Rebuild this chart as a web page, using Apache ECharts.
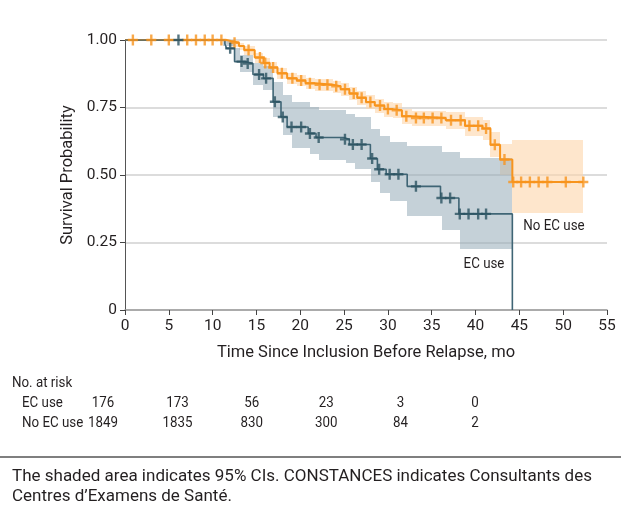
<!DOCTYPE html>
<html><head><meta charset="utf-8">
<script src="https://cdn.jsdelivr.net/npm/echarts@6/dist/echarts.min.js"></script>
<style>html,body{margin:0;padding:0;background:#fff}#c{width:621px;height:520px}</style>
</head><body><div id="c"></div>
<script>
// ---------- data ----------
const xTicks = [0, 5, 10, 15, 20, 25, 30, 35, 40, 45, 50, 55];
const yTicks = [0, 0.25, 0.5, 0.75, 1.0];

// EC use: Kaplan-Meier steps (time at which level starts, level)
const ecTimes = [0, 11.4, 11.6, 12.5, 13.7, 14.6, 15.8, 16.9, 17.8, 18.5, 20.9, 21.8, 24.9, 25.6, 28.0, 28.8, 29.8, 32.2, 36.0, 38.1, 44.2];
const ecSurv  = [1.0, 0.985, 0.969, 0.920, 0.913, 0.872, 0.858, 0.771, 0.715, 0.678, 0.654, 0.639, 0.632, 0.613, 0.561, 0.521, 0.503, 0.458, 0.415, 0.356, 0];
const ecCensor = [6.1, 12.0, 13.3, 14.0, 15.3, 16.1, 17.1, 18.0, 19.0, 20.1, 21.1, 22.1, 25.1, 26.0, 27.0, 28.2, 29.0, 30.2, 31.2, 33.2, 36.1, 37.1, 38.2, 39.2, 40.3, 41.2];
const ecBandStart = [11.15, 12.52, 13.09, 14.57, 15.71, 16.85, 17.98, 19.1, 21.07, 22.14, 25.2, 26.21, 28.1, 29.06, 30.2, 32.2, 36.14, 38.19];
const ecBandEnd = 44.2;
const ecUpper = [1.0, 0.97, 0.944, 0.915, 0.903, 0.845, 0.796, 0.771, 0.752, 0.741, 0.727, 0.715, 0.672, 0.644, 0.623, 0.607, 0.586, 0.562];
const ecLower = [0.978, 0.922, 0.882, 0.833, 0.814, 0.714, 0.647, 0.601, 0.577, 0.557, 0.545, 0.524, 0.474, 0.432, 0.404, 0.347, 0.295, 0.227];

// No EC use
const noTimes = [0, 11.6, 12.1, 13.0, 13.6, 14.8, 15.8, 16.5, 17.4, 18.5, 19.6, 20.6, 21.7, 23.7, 24.6, 25.6, 26.5, 27.5, 28.5, 29.6, 30.6, 31.6, 32.7, 36.6, 38.8, 40.8, 41.7, 42.8, 44.2, 52.3];
const noSurv  = [1.0, 0.996, 0.99, 0.978, 0.963, 0.935, 0.915, 0.898, 0.877, 0.858, 0.850, 0.840, 0.834, 0.829, 0.818, 0.802, 0.786, 0.770, 0.757, 0.744, 0.740, 0.718, 0.711, 0.703, 0.682, 0.672, 0.612, 0.557, 0.474, 0.474];
const noCensor = [0.9, 3.0, 5.0, 7.1, 8.1, 9.1, 10.0, 11.0, 12.5, 14.1, 15.4, 16.0, 16.9, 17.9, 19.1, 20.1, 21.1, 22.2, 23.1, 24.1, 25.1, 26.1, 27.0, 28.0, 29.1, 30.0, 31.0, 32.1, 33.2, 34.1, 35.1, 36.1, 37.2, 38.3, 39.3, 40.3, 41.2, 42.2, 43.3, 44.3, 45.2, 46.2, 47.2, 48.2, 50.3, 52.3];
const noBandStart = [11.6, 12.1, 13.0, 13.6, 14.8, 15.8, 16.5, 17.4, 18.5, 19.6, 20.6, 21.7, 23.7, 24.6, 25.6, 26.5, 27.5, 28.5, 29.6, 30.6, 31.6, 32.7, 36.6, 38.8, 40.8, 41.7, 42.8, 44.2];
const noBandEnd = 52.3;
const noUpper = [1.0, 1.0, 0.99, 0.978, 0.952, 0.935, 0.918, 0.897, 0.878, 0.870, 0.860, 0.855, 0.850, 0.840, 0.825, 0.810, 0.795, 0.782, 0.770, 0.766, 0.745, 0.738, 0.732, 0.715, 0.705, 0.660, 0.615, 0.629];
const noLower = [0.985, 0.975, 0.962, 0.945, 0.915, 0.895, 0.876, 0.855, 0.836, 0.828, 0.817, 0.810, 0.805, 0.793, 0.777, 0.760, 0.743, 0.730, 0.716, 0.711, 0.688, 0.680, 0.670, 0.645, 0.630, 0.565, 0.500, 0.359];

const riskLabels = ['EC use', 'No EC use'];
const riskEC = [176, 173, 56, 23, 3, 0];
const riskNoEC = [1849, 1835, 830, 300, 84, 2];

// ---------- helpers ----------
function stepAt(times, surv, t) {
  let v = surv[0];
  for (let i = 0; i < times.length; i++) { if (times[i] <= t) v = surv[i]; }
  return v;
}
function bands(starts, end, up, lo) {
  return starts.map((s, i) => [s, i + 1 < starts.length ? starts[i + 1] : end, lo[i], up[i]]);
}
function bandRender(fill) {
  return function (params, api) {
    const a = api.coord([api.value(0), api.value(3)]);
    const b = api.coord([api.value(1), api.value(2)]);
    const x0 = Math.round(a[0]), x1 = Math.round(b[0]);
    const y0 = Math.round(a[1]), y1 = Math.round(b[1]);
    return { type: 'rect', shape: { x: x0, y: y0, width: x1 - x0, height: y1 - y0 }, style: { fill: fill } };
  };
}
const PLUS = 'path://M3.8,0H6.2V3.9H10V6.1H6.2V10H3.8V6.1H0V3.9H3.8Z';
const FONT = 'Roboto';
const TXT = '#231f20';
const ORANGE = '#f7941d';
const DARK = '#2b5361';
const SX = 0.86; // condensed look for table / in-plot labels

function label(txt, x, y, size, align, sx) {
  return { type: 'text', x: x, y: y, scaleX: sx, style: { text: txt, fontSize: size, fontFamily: FONT, fill: TXT, align: align, verticalAlign: 'middle' } };
}

const chart = echarts.init(document.getElementById('c'), null, { renderer: 'canvas' });

const graphics = [
  label('No EC use', 554, 226, 15.5, 'center', SX),
  label('EC use', 484, 264, 15.5, 'center', SX),
  label('No. at risk', 12, 383, 15.5, 'left', SX),
  label(riskLabels[0], 22, 403, 15.5, 'left', SX),
  label(riskLabels[1], 22, 423, 15.5, 'left', SX),
  { type: 'line', shape: { x1: 0, y1: 457, x2: 621, y2: 457 }, style: { stroke: '#555', lineWidth: 1.5 } },
  label('The shaded area indicates 95% CIs. CONSTANCES indicates Consultants des', 12, 477, 17, 'left', 1),
  label('Centres d\u2019Examens de Sant\u00e9.', 12, 497, 17, 'left', 1)
];
riskEC.forEach((v, i) => graphics.push(label(String(v), 103 + i * 74.4, 403, 15.5, 'center', SX)));
riskNoEC.forEach((v, i) => graphics.push(label(String(v), 103 + i * 74.4, 423, 15.5, 'center', SX)));

chart.setOption({
  animation: false,
  backgroundColor: '#fff',
  grid: { left: 125, right: 14, top: 40, bottom: 210, containLabel: false },
  xAxis: {
    type: 'value', min: xTicks[0], max: xTicks[xTicks.length - 1], interval: 5,
    axisLine: { show: true, onZero: false, lineStyle: { color: '#9a9a9a', width: 1.5 } },
    axisTick: { show: true, length: 5, lineStyle: { color: '#444' } },
    axisLabel: { color: TXT, fontSize: 15.5, fontFamily: FONT, margin: 8 },
    splitLine: { show: false },
    name: 'Time Since Inclusion Before Relapse, mo', nameLocation: 'middle', nameGap: 34,
    nameTextStyle: { color: TXT, fontSize: 16.5, fontFamily: FONT }
  },
  yAxis: {
    type: 'value', min: yTicks[0], max: yTicks[yTicks.length - 1], interval: 0.25,
    axisLine: { show: true, lineStyle: { color: '#555', width: 1 } },
    axisTick: { show: true, length: 5, lineStyle: { color: '#444' } },
    axisLabel: { color: TXT, fontSize: 15.5, fontFamily: FONT, margin: 8, formatter: v => v === 0 ? '0' : v.toFixed(2) },
    splitLine: { show: true, lineStyle: { color: '#dcdcdc', width: 2 } },
    name: 'Survival Probability', nameLocation: 'middle', nameGap: 39,
    nameTextStyle: { color: TXT, fontSize: 16.5, fontFamily: FONT }
  },
  graphic: graphics,
  series: [
    { type: 'custom', name: 'No EC band', renderItem: bandRender('rgba(253,214,170,0.6)'), data: bands(noBandStart, noBandEnd, noUpper, noLower), encode: { x: [0, 1], y: [2, 3] }, z: 1, silent: true },
    { type: 'custom', name: 'EC band', renderItem: bandRender('rgba(150,172,184,0.55)'), data: bands(ecBandStart, ecBandEnd, ecUpper, ecLower), encode: { x: [0, 1], y: [2, 3] }, z: 2, silent: true },
    { type: 'line', name: 'No EC use', step: 'end', showSymbol: false, data: noTimes.map((t, i) => [t, noSurv[i]]), lineStyle: { color: ORANGE, width: 2 }, z: 3 },
    { type: 'line', name: 'EC use', step: 'end', showSymbol: false, data: ecTimes.map((t, i) => [t, ecSurv[i]]), lineStyle: { color: '#3f6575', width: 1.6 }, z: 4 },
    { type: 'scatter', name: 'No EC censor', symbol: PLUS, symbolSize: [10, 11], data: noCensor.map(t => [t, stepAt(noTimes, noSurv, t)]), itemStyle: { color: ORANGE }, z: 5 },
    { type: 'scatter', name: 'EC censor', symbol: PLUS, symbolSize: [10, 11], data: ecCensor.map(t => [t, stepAt(ecTimes, ecSurv, t)]), itemStyle: { color: DARK }, z: 6 }
  ]
});
</script>
</body></html>
